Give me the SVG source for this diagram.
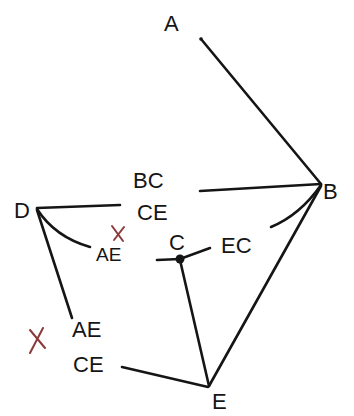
<svg xmlns="http://www.w3.org/2000/svg" width="354" height="416" viewBox="0 0 354 416">
<style>
.e{stroke:#151515;stroke-width:2.6;fill:none;stroke-linecap:round}
.t{font-family:"Liberation Sans",Arial,sans-serif;font-size:22px;fill:#151515}
.r{stroke:#8a3a3a;stroke-width:2;fill:none;stroke-linecap:round}
</style>
<rect width="354" height="416" fill="#fff"/>
<g id="connectors">
<path class="e" d="M201 39 L321 184"/>
<path class="e" d="M200 191 L321 184"/>
<path class="e" d="M37 208 L120 205"/>
<path class="e" d="M37 209 Q55 237 90 247"/>
<path class="e" d="M37 210 L72 318"/>
<path class="e" d="M157 260 L180 259 L210 248"/>
<path class="e" d="M321 185 Q300 215 271 227"/>
<path class="e" d="M180 260 L209 386"/>
<path class="e" d="M321 186 L209 386"/>
<path class="e" d="M122 367 L208 387"/>
<path class="r" d="M112 226 L123 241 M124 227 L114 240"/>
<path class="r" d="M30 330 L45 348 M43 328 L30 353"/>
</g>
<g id="A"><text class="t" x="164" y="31">A</text><circle cx="201" cy="39" r="1.8" fill="#151515"/></g>
<g id="B"><text class="t" x="323" y="199">B</text></g>
<g id="D"><text class="t" x="14" y="218">D</text></g>
<g id="C"><text class="t" x="169" y="250">C</text><circle cx="180" cy="259" r="4.5" fill="#151515"/></g>
<g id="E"><text class="t" x="212" y="409">E</text></g>
<g id="labels">
<text class="t" x="133" y="188">BC</text>
<text class="t" x="137" y="220">CE</text>
<text class="t" x="96" y="261" style="font-size:19px">AE</text>
<text class="t" x="221" y="253">EC</text>
<text class="t" x="72" y="337">AE</text>
<text class="t" x="73" y="372">CE</text>
</g>
</svg>
